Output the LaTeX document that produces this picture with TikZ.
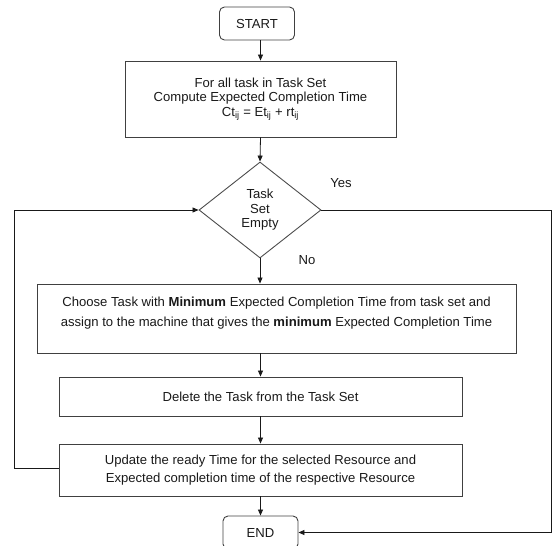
\documentclass[tikz,border=0pt]{standalone}
\usepackage{fontspec}
\setmainfont{Liberation Sans}
\usetikzlibrary{shapes.geometric,arrows.meta,calc}
\begin{document}
\begin{tikzpicture}[x=1pt,y=-1pt,
  every node/.style={font=\fontsize{13.1}{14.5}\selectfont, text=black!90},
  termbox/.style={draw=black!75, line width=0.9pt, rounded corners=5pt, minimum width=75pt, minimum height=33pt, inner sep=0pt},
  procbox/.style={draw=black!75, line width=0.9pt, inner sep=0pt, align=center},
  decbox/.style={draw=black!70, line width=0.9pt, diamond, minimum width=122pt, minimum height=96pt, inner sep=0pt, align=center},
  conn/.style={draw=black!90, line width=0.8pt},
  arr/.style={conn, -{Triangle[length=6pt,width=5pt]}},
  lbl/.style={inner sep=0pt}
]
\useasboundingbox (0,0) rectangle (552,546);

\node[termbox] (start) at (257,23.5) {START};
\node[procbox, minimum width=271pt, minimum height=76pt] (box1) at (260.5,99)
  {For all task in Task Set\\Compute Expected Completion Time\\Ct\textsubscript{ij} = Et\textsubscript{ij} + rt\textsubscript{ij}};
\node[decbox] (dia) at (260,210) {Task\\Set\\Empty};
\node[procbox, minimum width=479pt, minimum height=69pt] (box2) at (276.5,318.5) {};
\node[lbl, align=center] (box2txt) at (276.5,313)
  {Choose Task with \textbf{Minimum} Expected Completion Time from task set and\\[6pt]
   assign to the machine that gives the \textbf{minimum} Expected Completion Time};
\node[procbox, minimum width=403pt, minimum height=39pt] (box3) at (260.5,396.5)
  {Delete the Task from the Task Set};
\node[procbox, minimum width=403pt, minimum height=52pt] (box4) at (260.5,470)
  {Update the ready Time for the selected Resource and\\[3.5pt]
   Expected completion time of the respective Resource};
\node[termbox] (end) at (260.5,532.5) {END};

\node[lbl] (yes) at (341,183) {Yes};
\node[lbl] (no) at (307,260) {No};

\coordinate (loopbot) at (14,468);
\coordinate (looptop) at (14,210);
\coordinate (yesright) at (551,210);
\coordinate (yesbot) at (551,532.5);

\draw[arr] (start.south -| box1.north) -- (box1.north);
\draw[arr] (box1.south) -- (dia.north);
\draw[arr] (dia.south) -- (dia.south |- box2.north);
\draw[arr] (box3.north |- box2.south) -- (box3.north);
\draw[arr] (box3.south) -- (box4.north);
\draw[arr] (box4.south) -- (end.north);
\draw[arr] (box4.west |- loopbot) -- (loopbot) -- (looptop) -- (dia.west);
\draw[arr] (dia.east) -- (yesright) -- (yesbot) -- (end.east);
\end{tikzpicture}
\end{document}
